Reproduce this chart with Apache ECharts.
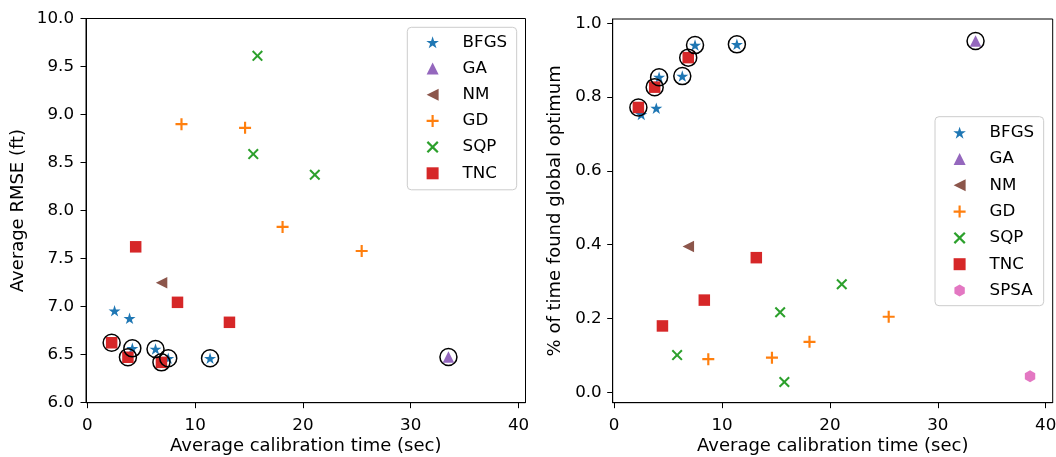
<!DOCTYPE html>
<html>
<head>
<meta charset="utf-8">
<script src="https://cdn.jsdelivr.net/npm/echarts@6/dist/echarts.min.js"></script>
<style>
  html, body { margin: 0; padding: 0; background: #fff; }
  #chart { width: 1056px; height: 457px; }
</style>
</head>
<body>
<div id="chart"></div>
<script>
// ---- Data (average calibration time in sec; RMSE in ft; fraction of runs finding global optimum) ----
const bfgsTime = [2.52, 3.91, 4.17, 6.32, 7.50, 11.38];
const bfgsRmse = [6.957, 6.878, 6.566, 6.559, 6.462, 6.462];
const bfgsOpt  = [0.753, 0.770, 0.854, 0.857, 0.941, 0.943];
const bfgsCircled = [0, 0, 1, 1, 1, 1];

const gaTime = [33.5];
const gaRmse = [6.476];
const gaOpt  = [0.952];
const gaCircled = [1];

const nmTime = [6.88];
const nmRmse = [7.249];
const nmOpt  = [0.395];

const gdTime = [8.73, 14.63, 18.11, 25.45];
const gdRmse = [8.90, 8.862, 7.83, 7.579];
const gdOpt  = [0.090, 0.094, 0.137, 0.205];

const sqpTime = [5.84, 15.39, 15.78, 21.10];
const sqpRmse = [null, 8.588, 9.611, 8.373];
const sqpOpt  = [0.101, 0.217, 0.028, 0.293];

const tncTime = [2.25, 3.76, 4.48, 6.87, 8.36, 13.18];
const tncRmse = [6.624, 6.473, 7.623, 6.420, 7.045, 6.837];
const tncOpt  = [0.772, 0.827, 0.180, 0.907, 0.250, 0.365];
const tncCircled = [1, 1, 0, 1, 0, 0];

const spsaTime = [38.55];
const spsaOpt  = [0.044];

const xTicks = [0, 10, 20, 30, 40];
const yTicksRight = [0, 0.2, 0.4, 0.6, 0.8, 1.0];
const leftLegendNames = ['BFGS', 'GA', 'NM', 'GD', 'SQP', 'TNC'];
const rightLegendNames = ['BFGS', 'GA', 'NM', 'GD', 'SQP', 'TNC', 'SPSA'];

// ---- Marker shapes ----
const STAR = 'path://M50,0 L61.23,34.55 L97.55,34.55 L68.17,55.9 L79.39,90.45 L50,69.1 L20.61,90.45 L31.83,55.9 L2.45,34.55 L38.77,34.55 Z';
const PLUS = 'path://M4.1,0 H5.9 V4.1 H10 V5.9 H5.9 V10 H4.1 V5.9 H0 V4.1 H4.1 Z';
const XMARK = 'path://M1.3,0 L5,3.7 L8.7,0 L10,1.3 L6.3,5 L10,8.7 L8.7,10 L5,6.3 L1.3,10 L0,8.7 L3.7,5 L0,1.3 Z';
const LTRI = 'path://M0,5 L10,0 L10,10 Z';
const UTRI = 'path://M5,0 L10,10 L0,10 Z';
const SQUARE = 'path://M0,0 H10 V10 H0 Z';
const HEX = 'path://M5,0 L9.33,2.5 L9.33,7.5 L5,10 L0.67,7.5 L0.67,2.5 Z';

const FONT = 'DejaVu Sans';
const FS = 16.7;
const FS_LABEL = 18;

function pts(xs, ys) {
  const out = [];
  for (let i = 0; i < xs.length; i++) {
    if (ys[i] !== null && ys[i] !== undefined) out.push([xs[i], ys[i]]);
  }
  return out;
}
function circled(xs, ys, flags) {
  const out = [];
  for (let i = 0; i < xs.length; i++) if (flags[i] && ys[i] != null) out.push([xs[i], ys[i]]);
  return out;
}

const styles = {
  BFGS: { symbol: STAR, symbolSize: [12, 11.5], color: '#1f77b4' },
  GA:   { symbol: UTRI, symbolSize: [11.5, 11.5], color: '#9467bd' },
  NM:   { symbol: LTRI, symbolSize: [11.5, 11.5], color: '#8c564b' },
  GD:   { symbol: PLUS, symbolSize: [12, 12], color: '#ff7f0e' },
  SQP:  { symbol: XMARK, symbolSize: [11, 11], color: '#2ca02c' },
  TNC:  { symbol: SQUARE, symbolSize: [11.5, 11.5], color: '#d62728' },
  SPSA: { symbol: HEX, symbolSize: [10.4, 12], color: '#e377c2' }
};

function sc(name, data, gi) {
  const s = styles[name];
  return {
    type: 'scatter', name: name, data: data,
    xAxisIndex: gi, yAxisIndex: gi,
    symbol: s.symbol, symbolSize: s.symbolSize, symbolKeepAspect: false,
    itemStyle: { color: s.color, opacity: 1 },
    emphasis: { disabled: true }, z: 2
  };
}
function ring(data, gi) {
  return {
    type: 'scatter', name: 'optimum', data: data,
    xAxisIndex: gi, yAxisIndex: gi,
    symbol: 'circle', symbolSize: 17,
    itemStyle: { color: 'rgba(0,0,0,0)', borderColor: '#000', borderWidth: 1.5, opacity: 1 },
    emphasis: { disabled: true }, z: 5
  };
}

const leftCircles = circled(bfgsTime, bfgsRmse, bfgsCircled)
  .concat(circled(tncTime, tncRmse, tncCircled))
  .concat(circled(gaTime, gaRmse, gaCircled));
const rightCircles = circled(bfgsTime, bfgsOpt, bfgsCircled)
  .concat(circled(tncTime, tncOpt, tncCircled))
  .concat(circled(gaTime, gaOpt, gaCircled));

function xAxisCfg(gi) {
  return {
    type: 'value', gridIndex: gi, min: -0.13, max: 40.65,
    name: 'Average calibration time (sec)', nameLocation: 'middle', nameGap: 35, nameMoveOverlap: false,
    nameTextStyle: { fontFamily: FONT, fontSize: FS_LABEL, color: '#000' },
    axisLine: { show: true, onZero: false, lineStyle: { color: '#000', width: 1 } },
    axisTick: { show: true, inside: false, length: 5.5, customValues: xTicks, lineStyle: { color: '#000', width: 1 } },
    axisLabel: { show: true, margin: 14.5, customValues: xTicks, fontFamily: FONT, fontSize: FS, color: '#000' },
    splitLine: { show: false }
  };
}

const legendCommon = {
  orient: 'vertical', itemWidth: 32.7, itemHeight: 12,
  symbolKeepAspect: true,
  backgroundColor: '#fff', borderColor: '#cccccc', borderWidth: 1, borderRadius: 4,
  formatter: name => ' \u2009' + name,
  textStyle: { fontFamily: FONT, fontSize: FS, color: '#000' },
  selectedMode: false
};

const gridCommon = { show: true, borderColor: '#000', borderWidth: 1, backgroundColor: 'transparent', containLabel: false, outerBoundsMode: 'none' };

const option = {
  animation: false,
  backgroundColor: '#fff',
  grid: [
    Object.assign({ left: 86, top: 18.5, width: 439.5, height: 384.2 }, gridCommon),
    Object.assign({ left: 612.7, top: 19, width: 440, height: 383.7 }, gridCommon)
  ],
  xAxis: [xAxisCfg(0), xAxisCfg(1)],
  yAxis: [
    {
      type: 'value', gridIndex: 0, min: 6, max: 10, interval: 0.5,
      name: 'Average RMSE (ft)', nameLocation: 'middle', nameGap: 59, nameMoveOverlap: false,
      nameTextStyle: { fontFamily: FONT, fontSize: FS_LABEL, color: '#000' },
      axisLine: { show: true, onZero: false, lineStyle: { color: '#000', width: 1 } },
      axisTick: { show: true, inside: false, length: 5.5, lineStyle: { color: '#000', width: 1 } },
      axisLabel: { margin: 12, fontFamily: FONT, fontSize: FS, color: '#000', formatter: v => v.toFixed(1) },
      splitLine: { show: false }
    },
    {
      type: 'value', gridIndex: 1, min: -0.028, max: 1.0117,
      name: '% of time found global optimum', nameLocation: 'middle', nameGap: 48, nameMoveOverlap: false,
      nameTextStyle: { fontFamily: FONT, fontSize: FS_LABEL, color: '#000' },
      axisLine: { show: true, onZero: false, lineStyle: { color: '#000', width: 1 } },
      axisTick: { show: true, inside: false, length: 5.5, customValues: yTicksRight, lineStyle: { color: '#000', width: 1 } },
      axisLabel: { margin: 11, customValues: yTicksRight, fontFamily: FONT, fontSize: FS, color: '#000', formatter: v => v.toFixed(1) },
      splitLine: { show: false }
    }
  ],
  legend: [
    Object.assign({}, legendCommon, { data: leftLegendNames, left: 407.3, top: 27.3, itemGap: 9.2, padding: [6.5, 9.5, 8, 19] }),
    Object.assign({}, legendCommon, { data: rightLegendNames, left: 935, top: 116.7, itemGap: 9.3, padding: [7.5, 9.5, 6.7, 18.3] })
  ],
  series: [
    sc('BFGS', pts(bfgsTime, bfgsRmse), 0),
    sc('GA', pts(gaTime, gaRmse), 0),
    sc('NM', pts(nmTime, nmRmse), 0),
    sc('GD', pts(gdTime, gdRmse), 0),
    sc('SQP', pts(sqpTime, sqpRmse), 0),
    sc('TNC', pts(tncTime, tncRmse), 0),
    ring(leftCircles, 0),
    sc('BFGS', pts(bfgsTime, bfgsOpt), 1),
    sc('GA', pts(gaTime, gaOpt), 1),
    sc('NM', pts(nmTime, nmOpt), 1),
    sc('GD', pts(gdTime, gdOpt), 1),
    sc('SQP', pts(sqpTime, sqpOpt), 1),
    sc('TNC', pts(tncTime, tncOpt), 1),
    sc('SPSA', pts(spsaTime, spsaOpt), 1),
    ring(rightCircles, 1)
  ]
};

const chart = echarts.init(document.getElementById('chart'), null, { renderer: 'canvas' });
chart.setOption(option);
</script>
</body>
</html>
